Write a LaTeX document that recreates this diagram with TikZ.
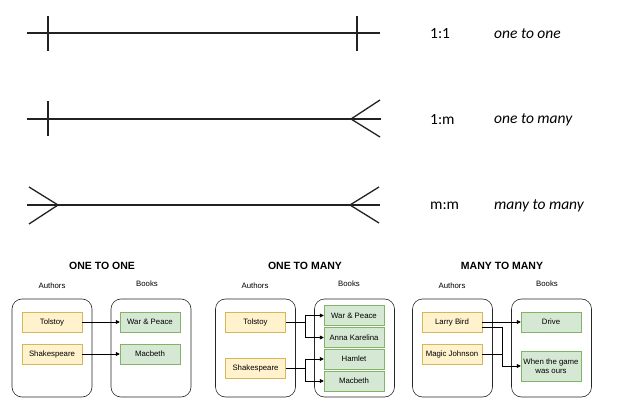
\documentclass[tikz,border=0pt]{standalone}
\usepackage{fontspec}
\setmainfont{Carlito}
\newfontfamily\arialf{Liberation Sans}
\usetikzlibrary{arrows.meta}
\definecolor{yfill}{HTML}{FFF2CC}
\definecolor{ydraw}{HTML}{D6B656}
\definecolor{gfill}{HTML}{D5E8D4}
\definecolor{gdraw}{HTML}{82B366}
\definecolor{lineink}{HTML}{222222}
\tikzset{
  notation/.style={line width=1.3pt, draw=lineink},
  lbl/.style={anchor=west, inner sep=0pt, font=\fontsize{15.5}{18}\selectfont},
  lbli/.style={anchor=west, inner sep=0pt, font=\fontsize{15.5}{18}\selectfont\itshape},
  cont/.style={draw=black!85, line width=0.6pt, rounded corners=10pt, minimum width=80pt, minimum height=98pt, inner sep=0pt},
  ybox/.style={draw=ydraw, fill=yfill, line width=0.5pt, minimum width=60pt, minimum height=20pt, inner sep=0pt, font=\arialf\fontsize{7.8}{9}\selectfont},
  gbox/.style={draw=gdraw, fill=gfill, line width=0.5pt, minimum width=60pt, minimum height=20pt, inner sep=0pt, font=\arialf\fontsize{7.8}{9}\selectfont, align=center},
  ttl/.style={inner sep=0pt, font=\arialf\bfseries\fontsize{10.5}{12}\selectfont},
  hdr/.style={inner sep=0pt, font=\arialf\fontsize{7.8}{9}\selectfont},
  arr/.style={draw=black, line width=0.6pt, -{Triangle[length=4pt,width=4pt]}}
}
\begin{document}
\begin{tikzpicture}[x=1pt,y=-1pt]
\useasboundingbox (0,0) rectangle (623,411);
% ---- notation rows ----
% row 1
\draw[notation] (27,33) -- (380,33);
\draw[notation] (48,16) -- (48,51);
\draw[notation] (357,16) -- (357,51);
% row 2
\draw[notation] (27,119) -- (381,119);
\draw[notation] (48,101) -- (48,136);
\draw[notation] (380,100) -- (351,119) -- (380,137);
% row 3
\draw[notation] (27,205) -- (380,205);
\draw[notation] (29,187) -- (58,205) -- (29,224);
\draw[notation] (379,187) -- (350,205) -- (379,223);
% labels
\node[lbl] (r1a) at (430,34) {1:1};
\node[lbli] (r1b) at (494,34) {one to one};
\node[lbl] (r2a) at (430,120) {1:m};
\node[lbli] (r2b) at (494,120) {one to many};
\node[lbl] (r3a) at (430,206) {m:m};
\node[lbli] (r3b) at (494,206) {many to many};

% ---- ONE TO ONE ----
\node[ttl] (t1) at (102,266) {ONE TO ONE};
\node[hdr] (a1) at (52,286) {Authors};
\node[hdr] (b1) at (147,284) {Books};
\node[cont] (c1l) at (52,348) {};
\node[cont] (c1r) at (151,348) {};
\node[ybox] (tol1) at (52,322) {Tolstoy};
\node[ybox] (sh1) at (52,354) {Shakespeare};
\node[gbox] (wp1) at (150,322) {War \& Peace};
\node[gbox] (mb1) at (150,354) {Macbeth};
\draw[arr] (tol1.east) -- (wp1.west);
\draw[arr] (sh1.east) -- (mb1.west);

% ---- ONE TO MANY ----
\node[ttl] (t2) at (305,266) {ONE TO MANY};
\node[hdr] (a2) at (255,286) {Authors};
\node[hdr] (b2) at (349,284) {Books};
\node[cont] (c2l) at (255.5,348) {};
\node[cont] (c2r) at (354.5,348) {};
\node[ybox] (tol2) at (255.5,322) {Tolstoy};
\node[ybox] (sh2) at (255.5,368) {Shakespeare};
\node[gbox] (wp2) at (354,315.5) {War \& Peace};
\node[gbox] (ak2) at (354,337.5) {Anna Karelina};
\node[gbox] (hm2) at (354,359) {Hamlet};
\node[gbox] (mb2) at (354,381) {Macbeth};
\coordinate (j2a) at (305,322);
\coordinate (j2b) at (305,368);
\draw[arr] (tol2.east) -- (j2a) |- (wp2.west);
\draw[arr] (j2a) |- (ak2.west);
\draw[arr] (sh2.east) -- (j2b) |- (hm2.west);
\draw[arr] (j2b) |- (mb2.west);

% ---- MANY TO MANY ----
\node[ttl] (t3) at (502,266) {MANY TO MANY};
\node[hdr] (a3) at (452,286) {Authors};
\node[hdr] (b3) at (547,284) {Books};
\node[cont] (c3l) at (452.5,348) {};
\node[cont] (c3r) at (551.5,348) {};
\node[ybox] (lb3) at (452,322) {Larry Bird};
\node[ybox] (mj3) at (452,354) {Magic Johnson};
\node[gbox] (dr3) at (551,322) {Drive};
\node[gbox, minimum height=30pt] (wg3) at (551,366) {When the game\\was ours};
\coordinate (lb3b) at ([yshift=-5pt]lb3.east);
\coordinate (j3a) at (502,327);
\coordinate (j3b) at (502,354);
\draw[arr] (lb3.east) -- (dr3.west);
\draw[arr] (lb3b) -- (j3a) |- (wg3.west);
\draw[draw=black, line width=0.6pt] (mj3.east) -- (j3b);
\end{tikzpicture}
\end{document}
